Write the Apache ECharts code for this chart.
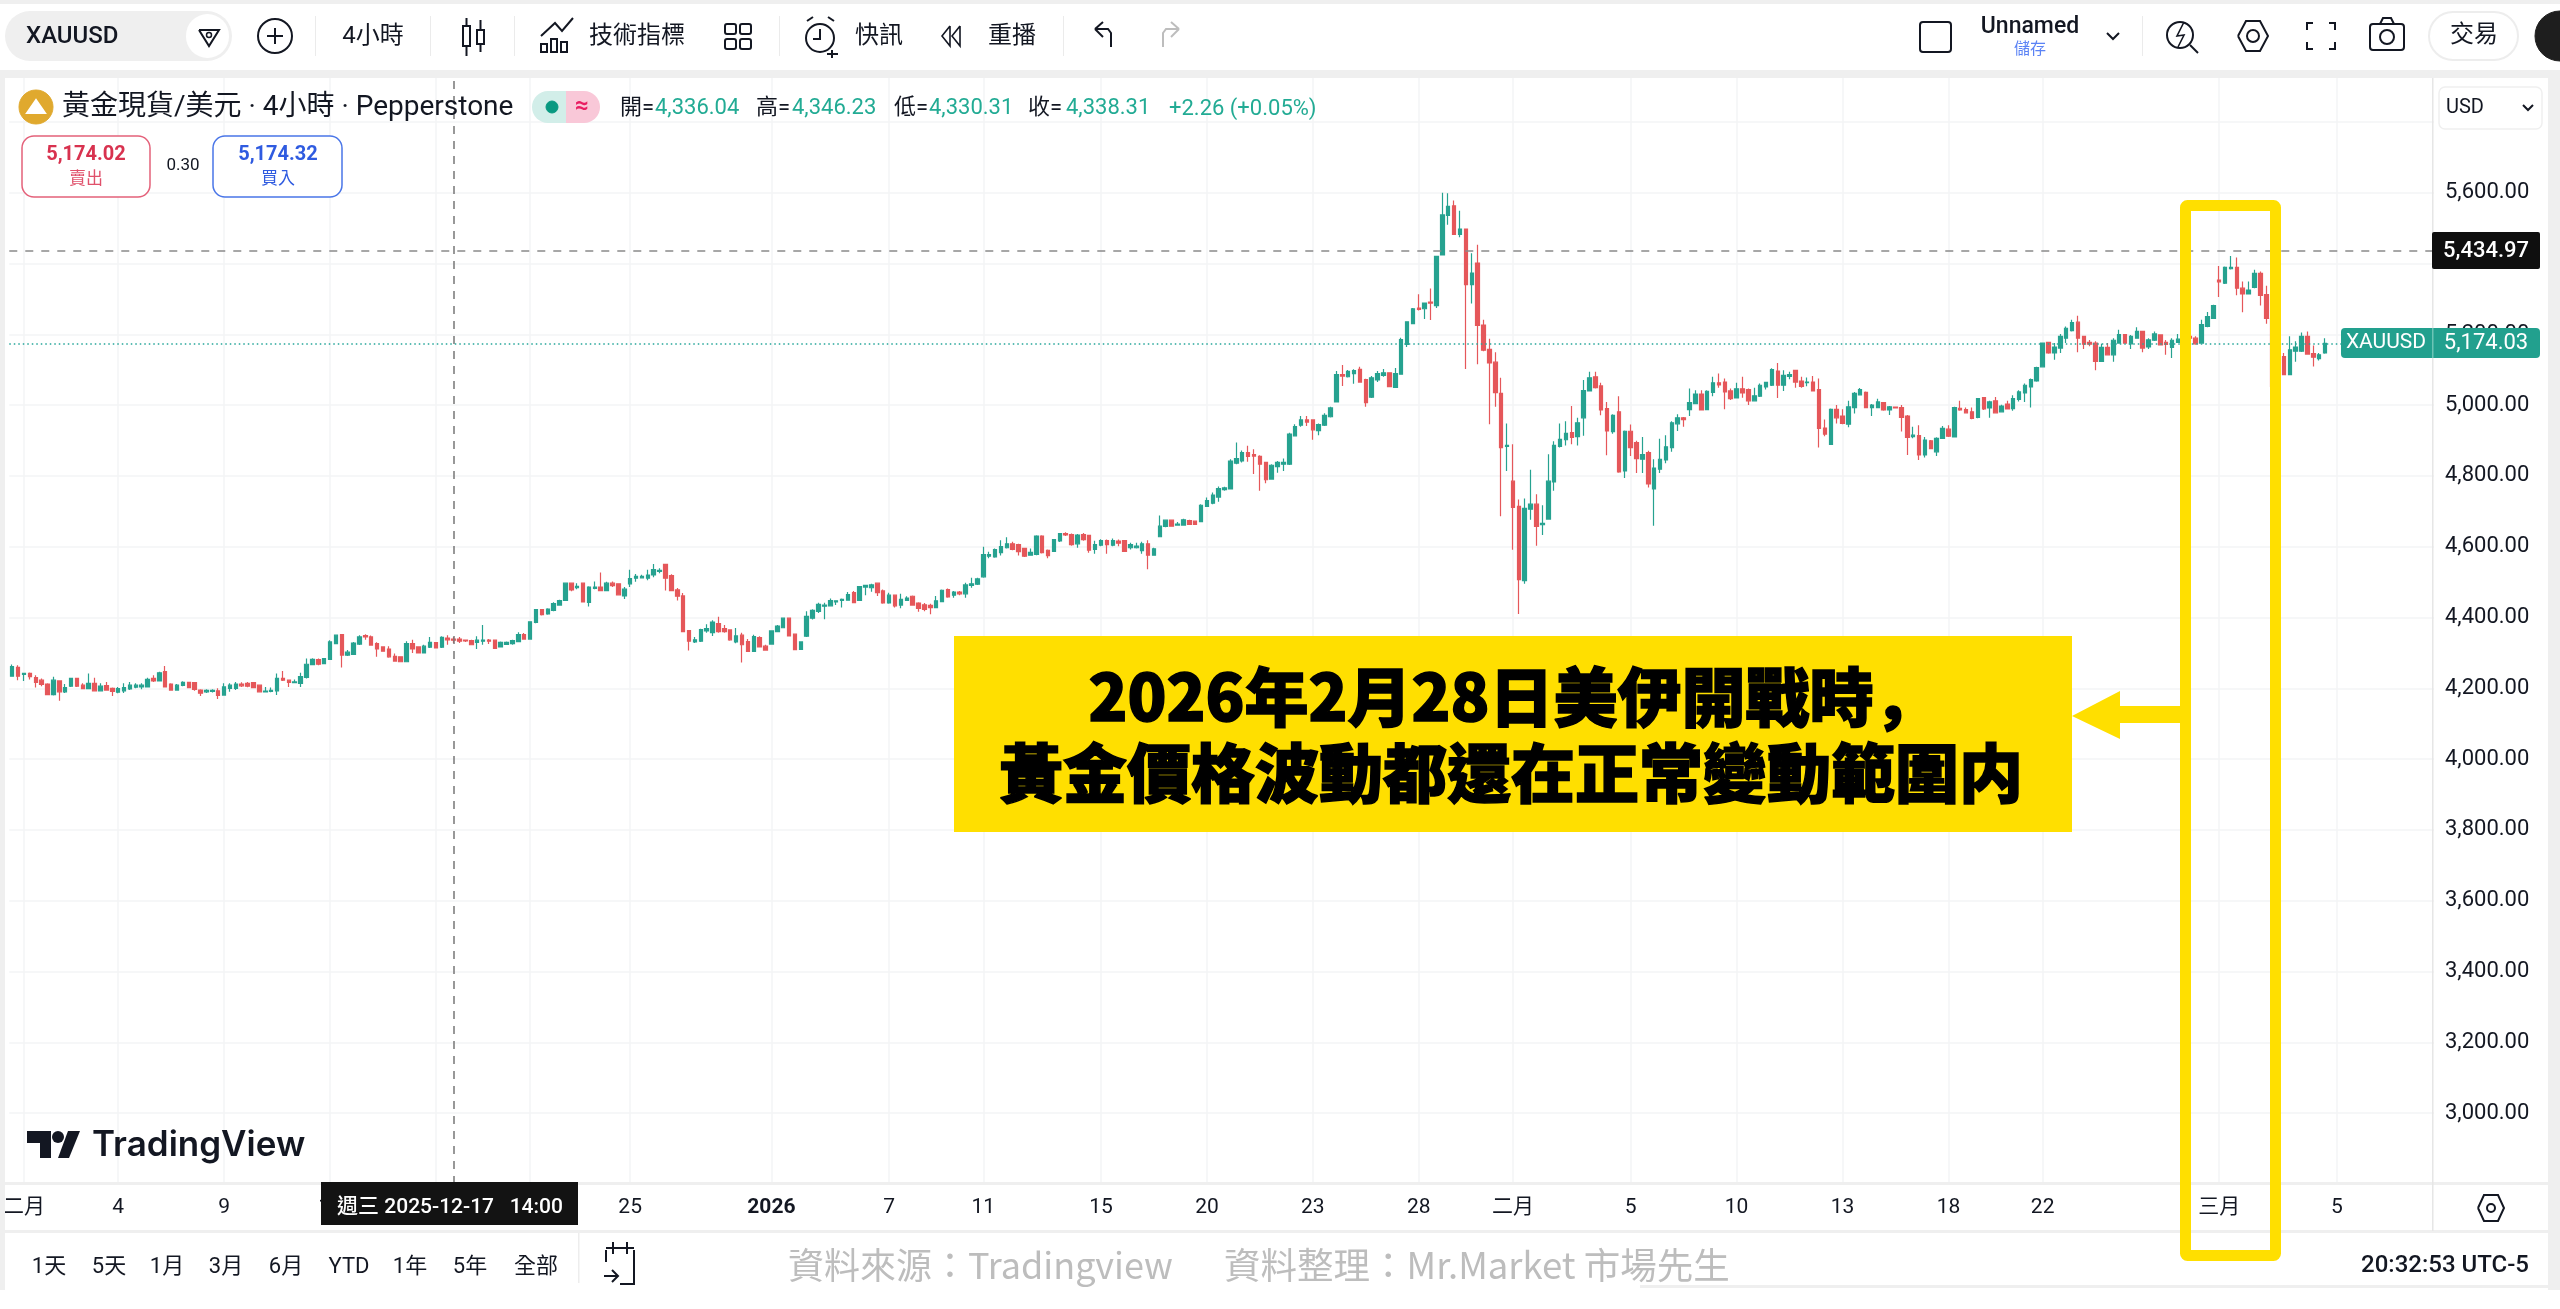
<!DOCTYPE html>
<html>
<head>
<meta charset="utf-8">
<title>XAUUSD</title>
<script src="https://cdn.jsdelivr.net/npm/echarts@6/dist/echarts.min.js"></script>
<style>
html, body { margin: 0; padding: 0; background: #fff; }
#chart { width: 2560px; height: 1309px; }
</style>
</head>
<body>
<div id="chart"></div>
<script>
// 4H candles: [open, close, low, high]
const candlesDec = [
[4234,4261,4233,4267],[4259,4234,4223,4265],[4239,4242,4221,4244],[4242,4233,4225,4245],[4230,4217,4202,4237],[4223,4211,4206,4228],
[4212,4182,4181,4214],[4182,4223,4180,4233],[4221,4190,4165,4223],[4190,4202,4187,4212],[4206,4228,4204,4230],[4228,4206,4204,4230],
[4209,4199,4197,4214],[4199,4214,4197,4242],[4214,4193,4191,4230],[4193,4206,4191,4214],[4208,4195,4193,4218],[4200,4191,4178,4202],
[4189,4199,4186,4204],[4193,4202,4187,4214],[4198,4209,4195,4218],[4203,4209,4200,4214],[4204,4209,4197,4214],[4204,4225,4202,4230],
[4228,4221,4218,4237],[4221,4244,4220,4247],[4247,4204,4202,4263],[4212,4195,4193,4214],[4195,4209,4193,4212],[4208,4217,4206,4220],
[4217,4202,4201,4218],[4216,4197,4193,4218],[4195,4186,4178,4197],[4190,4194,4187,4197],[4191,4194,4188,4197],[4193,4180,4170,4200],
[4181,4204,4179,4214],[4200,4209,4190,4214],[4200,4212,4195,4218],[4212,4207,4204,4217],[4214,4206,4203,4218],[4216,4202,4201,4218],
[4209,4190,4188,4211],[4190,4192,4189,4204],[4191,4194,4189,4202],[4193,4228,4181,4242],[4228,4223,4221,4249],[4223,4217,4204,4225],
[4216,4218,4214,4225],[4214,4233,4204,4244],[4231,4268,4228,4284],[4267,4282,4265,4285],[4281,4268,4265,4284],[4270,4284,4269,4285],
[4282,4331,4281,4336],[4326,4350,4325,4352],[4352,4294,4259,4353],[4294,4302,4291,4308],[4296,4328,4295,4331],[4325,4345,4322,4350],
[4349,4345,4337,4353],[4345,4322,4321,4349],[4326,4311,4289,4330],[4317,4305,4304,4319],[4311,4289,4286,4319],[4290,4277,4275,4298],
[4289,4275,4275,4290],[4275,4326,4275,4333],[4326,4311,4300,4337],[4317,4300,4299,4319],[4300,4319,4298,4323],[4316,4330,4314,4345],
[4329,4314,4313,4331],[4316,4344,4314,4347],[4342,4337,4323,4350],[4339,4336,4328,4345],[4339,4333,4328,4345],[4336,4334,4331,4337],
[4335,4323,4322,4337],[4330,4336,4311,4347],[4333,4336,4323,4379],[4336,4333,4325,4339],[4336,4313,4311,4337],[4317,4330,4316,4332],
[4324,4330,4323,4332],[4326,4335,4323,4337],[4332,4352,4330,4358],[4352,4339,4337,4356],[4339,4388,4338,4389],[4386,4422,4384,4424],
[4422,4408,4406,4424],[4410,4424,4408,4426],[4420,4439,4418,4443],[4435,4448,4433,4450],[4448,4497,4447,4499],[4497,4478,4474,4499],
[4484,4488,4480,4497],[4497,4444,4443,4499],[4443,4486,4431,4488],[4482,4486,4480,4502],[4486,4476,4475,4527],[4476,4497,4475,4501],
[4497,4490,4486,4502],[4495,4464,4462,4497],[4461,4480,4452,4486],[4495,4510,4486,4535],[4511,4516,4501,4523],[4512,4516,4510,4521],
[4511,4520,4505,4535],[4520,4535,4514,4551],[4530,4533,4525,4539],[4550,4511,4476,4552],[4518,4476,4475,4522],[4478,4460,4448,4483],
[4461,4360,4358,4469],[4363,4333,4307,4364],[4331,4337,4328,4345],[4333,4366,4331,4368],[4362,4369,4357,4381],[4357,4387,4348,4392],
[4383,4360,4357,4402],[4369,4360,4357,4379],[4365,4337,4334,4367],[4331,4348,4327,4370],[4350,4323,4273,4357],[4332,4304,4303,4339],
[4304,4346,4303,4351],[4343,4317,4315,4347],[4319,4308,4306,4323]
];
const candlesJan = [
[4325,4362,4323,4364],[4360,4376,4358,4379],[4371,4398,4370,4400],[4398,4348,4346,4400],[4353,4309,4308,4355],[4310,4331,4310,4332],
[4347,4403,4345,4418],[4398,4420,4394,4423],[4417,4437,4413,4442],[4432,4435,4395,4442],[4433,4448,4431,4454],[4444,4447,4435,4448],
[4448,4451,4428,4454],[4449,4465,4447,4472],[4470,4442,4440,4475],[4448,4487,4447,4489],[4486,4491,4463,4492],[4484,4492,4473,4495],
[4497,4470,4461,4499],[4475,4441,4439,4479],[4441,4463,4439,4470],[4463,4433,4428,4465],[4435,4451,4426,4467],[4448,4455,4447,4460],
[4460,4435,4433,4462],[4441,4426,4416,4443],[4436,4423,4418,4441],[4434,4428,4409,4439],[4428,4447,4426,4461],[4445,4477,4443,4479],
[4479,4458,4456,4482],[4463,4472,4456,4475],[4472,4467,4463,4475],[4467,4492,4456,4498],[4491,4495,4484,4512],[4494,4509,4492,4512],
[4515,4578,4512,4600],[4573,4578,4567,4586],[4571,4592,4569,4595],[4583,4600,4575,4618],[4597,4608,4595,4627],[4608,4592,4590,4614],
[4606,4586,4575,4608],[4595,4573,4571,4597],[4576,4584,4575,4595],[4578,4630,4576,4632],[4630,4583,4581,4632],[4590,4575,4567,4592],
[4587,4620,4586,4622],[4616,4637,4613,4639],[4637,4633,4630,4641],[4634,4606,4603,4637],[4608,4633,4597,4636],[4634,4620,4617,4639],
[4632,4590,4583,4634],[4592,4606,4580,4617],[4604,4617,4601,4621],[4617,4606,4580,4620],[4604,4617,4601,4623],[4616,4610,4601,4620],
[4617,4587,4586,4619],[4597,4606,4592,4611],[4597,4602,4595,4611],[4589,4608,4580,4614],[4608,4576,4536,4618],[4576,4594,4575,4597],
[4628,4658,4627,4688],[4657,4675,4655,4677],[4675,4658,4656,4677],[4661,4664,4659,4670],[4661,4676,4660,4679],[4674,4663,4662,4676],
[4672,4663,4661,4674],[4671,4717,4670,4720],[4714,4730,4713,4739],[4723,4746,4720,4753],[4740,4764,4727,4770],[4761,4766,4758,4769],
[4763,4842,4762,4847],[4836,4849,4833,4894],[4842,4866,4838,4872],[4866,4855,4840,4885],[4860,4856,4805,4875],[4855,4833,4758,4858],
[4838,4789,4779,4840],[4791,4830,4789,4833],[4826,4838,4809,4842],[4833,4838,4814,4849],[4833,4918,4831,4922],[4913,4939,4911,4946],
[4943,4958,4939,4969],[4958,4952,4941,4969],[4958,4930,4902,4960],[4928,4945,4915,4948],[4943,4971,4941,4977],[4967,4992,4965,4995],
[5009,5086,5007,5096],[5086,5082,5054,5113],[5080,5095,5078,5099],[5089,5097,5060,5101],[5101,5065,5063,5108],[5072,5007,4995,5074],
[5022,5077,5020,5082],[5071,5089,5065,5096],[5084,5091,5080,5102],[5091,5052,5050,5093],[5050,5089,5049,5105],[5087,5185,5086,5190],
[5171,5235,5164,5237],[5230,5272,5228,5274],[5274,5270,5267,5313],[5272,5288,5243,5290],[5291,5288,5240,5329],[5281,5420,5274,5422],
[5424,5537,5423,5600],[5536,5561,5509,5598],[5563,5482,5480,5578],[5482,5497,5474,5549],[5497,5340,5102,5499],[5340,5373,5287,5429],
[5401,5225,5115,5453],[5226,5155,5152,5241],[5157,5119,4946,5187],[5121,5035,4995,5149],[5033,4880,4686,5077],[4883,4886,4814,4948]
];
const candlesFeb = [
[4785,4711,4591,4889],[4714,4507,4410,4733],[4504,4708,4495,4736],[4706,4720,4676,4817],[4720,4657,4603,4748],[4662,4666,4633,4717],
[4678,4785,4676,4861],[4783,4886,4758,4898],[4883,4903,4880,4948],[4902,4920,4886,4954],[4922,4909,4889,4997],[4911,4950,4886,4964],
[4964,5041,4913,5071],[5040,5077,5038,5094],[5080,5049,5047,5094],[5054,4986,4971,5063],[4990,4927,4858,5009],[4925,4971,4919,4974],
[4981,4811,4809,5025],[4814,4926,4794,4928],[4926,4880,4856,4945],[4894,4849,4808,4899],[4847,4860,4808,4910],[4866,4777,4767,4871],
[4763,4822,4659,4847],[4819,4847,4808,4905],[4845,4882,4836,4915],[4880,4950,4868,4954],[4947,4964,4927,4974],[4964,4959,4939,4966],
[4987,5007,4969,5047],[5004,5031,5002,5042],[5031,4986,4985,5042],[4987,5039,4987,5042],[5036,5063,5025,5080],[5063,5057,5049,5089],
[5065,5037,4988,5075],[5040,5018,5014,5047],[5020,5046,5019,5063],[5046,5034,5021,5080],[5044,5012,5000,5047],[5012,5026,5010,5049],
[5025,5056,5023,5061],[5051,5064,5044,5065],[5056,5100,5054,5104],[5096,5056,5020,5119],[5056,5084,5040,5098],[5081,5086,5073,5094],
[5098,5065,5049,5100],[5068,5053,5049,5080],[5063,5065,5053,5078],[5065,5040,5038,5082],[5044,4934,4880,5075],[4935,4918,4912,4959],
[4889,4988,4888,4990],[4988,4964,4948,5000],[4969,4948,4946,4988],[4946,4995,4937,5012],[4993,5033,4976,5037],[5029,5044,5027,5048],
[5036,4993,4991,5038],[4993,5000,4969,5003],[4993,5009,4991,5018],[5007,4986,4984,5009],[4986,4995,4972,4997],[4994,4992,4991,4995],
[4993,4965,4925,5000],[4969,4909,4859,4972],[4911,4915,4906,4939],[4914,4859,4845,4943],[4859,4901,4852,4910],[4899,4877,4875,4901],
[4868,4906,4856,4909],[4906,4934,4904,4941],[4932,4912,4910,4943],[4910,4993,4909,4995],[4991,4986,4984,5012],[4987,4978,4976,4993],
[4981,4962,4960,4993],[4965,5018,4963,5020],[5021,4989,4986,5023],[4992,5009,4964,5012],[5012,4978,4976,5023],[4981,4997,4979,5001],
[5003,4989,4988,5012],[4990,5018,4984,5028],[5016,5037,5010,5042],[5034,5056,5009,5061],[5051,5072,4993,5075],[5068,5106,5066,5108],
[5108,5175,5107,5177],[5177,5147,5145,5179],[5147,5164,5128,5175],[5161,5194,5147,5201],[5189,5217,5175,5222],[5210,5233,5208,5241],
[5234,5189,5149,5252],[5194,5172,5158,5196],[5177,5172,5166,5184],[5175,5123,5098,5180],[5123,5163,5122,5173],[5163,5142,5140,5175],
[5142,5183,5122,5189],[5175,5199,5173,5213],[5199,5175,5173,5200],[5173,5194,5158,5198],[5189,5208,5187,5220],[5208,5161,5149,5210],
[5164,5184,5158,5189],[5183,5201,5181,5208],[5198,5170,5168,5200],[5177,5171,5142,5184],[5163,5183,5133,5189],[5177,5186,5175,5201],
[5184,5194,5183,5198],[5194,5189,5184,5199],[5189,5173,5170,5194],[5175,5227,5173,5241],[5222,5250,5220,5263],[5245,5281,5244,5283]
];
const candlesMar = [
[5353,5348,5305,5393],[5344,5389,5342,5391],[5385,5389,5383,5421],[5389,5330,5310,5417],[5330,5314,5262,5349],[5314,5325,5312,5349],
[5332,5372,5330,5382],[5372,5310,5281,5377],[5312,5245,5230,5337],[5245,5053,5039,5250],[5053,5133,5044,5137],[5137,5086,5085,5147],
[5086,5156,5085,5194],[5152,5164,5122,5180],[5152,5194,5150,5205],[5194,5144,5142,5208],[5145,5135,5109,5168],[5131,5142,5126,5147],
[5147,5174,5145,5189]
];

// time axis: which candle carries which label
const tickIdx = [2,18,36,54,72,88,105,129,149,165,185,203,221,239,255,275,293,311,329,345,375,395];
const tickLabels = ['二月','4','9','12','17','22','25','2026','7','11','15','20','23','28','二月','5','10','13','18','22','三月','5'];
const slotCount = 412;
const crosshairIdx = 75;
const crosshairText = '週三 2025-12-17   14:00';

const priceMin = 2800, priceMax = 6000, priceStep = 200;
const hiddenPrices = [2800, 5400, 5800, 6000];
const lastPrice = 5174.03, lastText = '5,174.03';
const hoverPrice = 5434.97, hoverText = '5,434.97';

const legendOhlc = [['開=', '4,336.04'], ['高=', '4,346.23'], ['低=', '4,330.31'], ['收=', '4,338.31']];
const rangeButtons = ['1天', '5天', '1月', '3月', '6月', 'YTD', '1年', '5年', '全部'];

const candles = candlesDec.concat(candlesJan, candlesFeb, candlesMar);
const categories = new Array(slotCount).fill('');
tickIdx.forEach((idx, k) => { categories[idx] = tickLabels[k]; });

const FONT = 'Roboto, "Noto Sans CJK TC", sans-serif';
const CJK = '"Noto Sans CJK TC", sans-serif';
const INK = '#131722';
const UP = '#26A290', DOWN = '#E5575A', YELLOW = '#FFDF00';
const BAND = '#EFEFEF';

// graphic helpers
const gfx = [];
function box(x, y, w, h, fill, o = {}) {
    gfx.push({ type: 'rect', z: 100, silent: true, shape: { x, y, width: w, height: h, r: o.r || 0 },
        style: { fill: fill, stroke: o.stroke || null, lineWidth: o.lw || 0 } });
}
function seg(pts, color = INK, lw = 2, fill = null) {
    gfx.push({ type: fill ? 'polygon' : 'polyline', z: 100, silent: true, shape: { points: pts },
        style: { stroke: color, lineWidth: lw, fill: fill } });
}
function ring(cx, cy, r, color = INK, lw = 2, fill = null) {
    gfx.push({ type: 'circle', z: 100, silent: true, shape: { cx, cy, r },
        style: { stroke: color, lineWidth: lw, fill: fill } });
}
function label(x, y, text, o = {}) {
    const a = o.align || 'center';
    gfx.push({ type: 'text', z: 100, silent: true, style: {
        x, y, text, fill: o.color || INK,
        font: (o.weight || 'normal') + ' ' + (o.size || 24) + 'px ' + (o.family || FONT),
        align: a, verticalAlign: 'middle', textAlign: a, textVerticalAlign: 'middle',
        stroke: o.stroke || null, lineWidth: o.strokeW || 0
    } });
}

// page bands
box(0, 0, 2560, 4, BAND);
box(0, 4, 2560, 66, '#fff');
box(0, 70, 2560, 8, BAND);
box(0, 78, 5, 1212, BAND);
box(2548, 78, 12, 1212, BAND);
box(0, 1182, 2548, 3, BAND);
box(0, 1230, 2548, 3, BAND);
box(1640, 1285, 920, 3, BAND);
box(2432, 78, 1.5, 1153, '#E6E6E6');
box(578, 1233, 1.5, 50, '#EDEDED');

// top toolbar, left side
box(5, 11, 227, 50, '#EFEFEF', { r: 25 });
box(186, 14, 43, 44, '#fff', { r: 22 });
label(26, 37, 'XAUUSD', { align: 'left', size: 24, weight: 500 });
seg([[199, 30], [219, 30], [209, 46], [199, 30]], INK, 2);
ring(209, 35, 2.5, INK, 1.5);
ring(275, 36, 17);
seg([[267, 36], [283, 36]]); seg([[275, 28], [275, 44]]);
[315, 430, 514, 779, 1063, 2142].forEach(x => box(x, 16, 1, 40, '#EBEBEB'));
label(373, 37, '4小時');
box(463, 26, 7, 20, '#fff', { stroke: INK, lw: 2 }); seg([[466.5, 18], [466.5, 26]]); seg([[466.5, 46], [466.5, 56]]);
box(477, 30, 7, 14, '#fff', { stroke: INK, lw: 2 }); seg([[480.5, 20], [480.5, 30]]); seg([[480.5, 44], [480.5, 52]]);
seg([[541, 36], [555, 23], [562, 31], [573, 18]]);
box(541, 44, 6, 8, '#fff', { stroke: INK, lw: 2 }); box(551, 39, 6, 13, '#fff', { stroke: INK, lw: 2 }); box(561, 42, 6, 10, '#fff', { stroke: INK, lw: 2 });
label(637, 37, '技術指標');
[[725, 24], [740, 24], [725, 39], [740, 39]].forEach(p => box(p[0], p[1], 11, 10, '#fff', { stroke: INK, lw: 2, r: 2 }));
ring(820, 38, 14);
seg([[820, 29], [820, 39], [813, 39]]); seg([[807, 21], [813, 17]]); seg([[834, 21], [828, 17]]); seg([[832, 50], [832, 58]], INK, 2); seg([[827, 54], [838, 54]]);
label(879, 37, '快訊');
seg([[950, 26], [942, 36], [950, 46], [950, 26]], INK, 1.6);
seg([[960, 26], [952, 36], [960, 46], [960, 26]], INK, 1.6);
label(1012, 37, '重播');
seg([[1095, 29], [1103, 37]]); seg([[1095, 29], [1103, 22]]); seg([[1095, 29], [1108, 29], [1111, 33], [1111, 47]]);
seg([[1179, 29], [1171, 37]], '#BDBDBD'); seg([[1179, 29], [1171, 22]], '#BDBDBD'); seg([[1179, 29], [1166, 29], [1163, 33], [1163, 47]], '#BDBDBD');

// top toolbar, right side
box(1920, 22, 31, 30, '#fff', { stroke: INK, lw: 2, r: 3 });
label(2030, 27, 'Unnamed', { size: 23, weight: 500 });
label(2030, 50, '儲存', { size: 16, color: '#5B83F5' });
seg([[2107, 33], [2113, 39], [2119, 33]]);
ring(2180, 35, 13); seg([[2190, 45], [2198, 53]]); seg([[2184, 22], [2177, 36], [2184, 35], [2178, 47]], INK, 1.6);
seg([[2238, 36], [2246, 21], [2260, 21], [2268, 36], [2260, 51], [2246, 51], [2238, 36]]); ring(2253, 36, 6);
seg([[2307, 30], [2307, 23], [2313, 23]]); seg([[2329, 23], [2335, 23], [2335, 30]]); seg([[2307, 42], [2307, 49], [2313, 49]]); seg([[2329, 49], [2335, 49], [2335, 42]]);
box(2370, 24, 34, 26, '#fff', { stroke: INK, lw: 2, r: 3 }); ring(2387, 37, 7); seg([[2380, 24], [2383, 18], [2391, 18], [2394, 24]]);
box(2429, 12, 89, 48, '#fff', { stroke: '#EDEDED', lw: 2, r: 24 });
label(2474, 36, '交易', { size: 24 });
ring(2560, 36, 25, '#1E1E1E', 1, '#1E1E1E');

// legend row
ring(36, 107, 17, '#E0A92E', 1, '#E0A92E');
seg([[27, 113], [36, 100], [45, 113], [27, 113]], '#fff', 2, '#fff');
label(62, 108, '黃金現貨/美元 · 4小時 · Pepperstone', { align: 'left', size: 28 });
box(532, 91, 36, 32, '#D2EEE9', { r: [16, 0, 0, 16] });
box(566, 91, 34, 32, '#F9C8D8', { r: [0, 16, 16, 0] });
ring(552, 107, 6, '#089981', 1, '#089981');
label(582, 107, '≈', { size: 24, color: '#E91E63', weight: 'bold' });
const ohlcX = [[620, 655], [756, 792], [894, 929], [1028, 1066]];
legendOhlc.forEach((p, k) => {
    label(ohlcX[k][0], 108, p[0], { align: 'left', size: 22 });
    label(ohlcX[k][1], 108, p[1], { align: 'left', size: 22, color: '#22AB94' });
});
label(1169, 109, '+2.26 (+0.05%)', { align: 'left', size: 22, color: '#22AB94' });
box(22, 136, 128, 61, '#fff', { stroke: '#E4617A', lw: 1.5, r: 12 });
label(86, 155, '5,174.02', { size: 20, weight: 'bold', color: '#D8324F' });
label(86, 180, '賣出', { size: 17, color: '#E0516B' });
label(183, 166, '0.30', { size: 17 });
box(213, 136, 129, 61, '#fff', { stroke: '#4A76E8', lw: 1.5, r: 12 });
label(278, 155, '5,174.32', { size: 20, weight: 'bold', color: '#2F5BE0' });
label(278, 180, '買入', { size: 17, color: '#2F5BE0' });
box(2439, 87, 103, 42, '#fff', { stroke: '#EFEFEF', lw: 1.5, r: 6 });
label(2446, 108, 'USD', { align: 'left', size: 20 });
seg([[2523, 105], [2528, 110], [2533, 105]]);

// price tags on the right
box(2432, 232, 108, 37, '#0F0F0F', { r: 2 });
label(2486, 251, hoverText, { size: 22, color: '#fff', weight: 500 });
box(2341, 328, 199, 30, '#22A08E', { r: 4 });
box(2432, 328, 1.5, 30, '#6CC4B6');
label(2386, 343, 'XAUUSD', { size: 21, color: '#fff' });
label(2486, 343, lastText, { size: 22, color: '#fff' });

// bottom
box(321, 1182, 257, 43, '#131313');
label(450, 1208, crosshairText, { size: 21, color: '#fff', weight: 500 });
const hexX = 2491;
seg([[hexX - 13, 1208], [hexX - 7, 1195], [hexX + 7, 1195], [hexX + 13, 1208], [hexX + 7, 1221], [hexX - 7, 1221], [hexX - 13, 1208]]); ring(hexX, 1208, 4);
const rangeX = [49, 109, 167, 226, 286, 349, 410, 470, 536];
rangeButtons.forEach((t, k) => label(rangeX[k], 1267, t, { size: 22 }));
seg([[606, 1248], [634, 1248]]); seg([[613, 1242], [613, 1254]]); seg([[627, 1242], [627, 1254]]);
seg([[606, 1262], [606, 1250]]); seg([[634, 1250], [634, 1284], [620, 1284]]); seg([[604, 1276], [618, 1276]]); seg([[612, 1270], [618, 1276], [612, 1282]]);
label(788, 1265, '資料來源：Tradingview', { align: 'left', size: 36, color: '#BDBDBD', family: CJK });
label(1224, 1265, '資料整理：Mr.Market 市場先生', { align: 'left', size: 36.5, color: '#BDBDBD', family: CJK });
label(2529, 1266, '20:32:53 UTC-5', { align: 'right', size: 24, weight: 500 });

// TradingView mark
seg([[27, 1131], [51, 1131], [51, 1158], [40, 1158], [40, 1143], [27, 1143]], INK, 0, INK);
ring(58, 1137, 6, INK, 0, INK);
seg([[58, 1158], [68, 1131], [80, 1131], [69, 1158]], INK, 0, INK);
label(92, 1145, 'TradingView', { align: 'left', size: 35, weight: 600, family: 'Inter, sans-serif' });

// annotation
box(2185.5, 205.5, 90, 1050, 'transparent', { stroke: YELLOW, lw: 11, r: 2 });
box(954, 636, 1118, 196, YELLOW);
seg([[2072, 716], [2120, 691], [2120, 706], [2181, 706], [2181, 723], [2120, 723], [2120, 739]], YELLOW, 0, YELLOW);
label(1513, 697, '2026年2月28日美伊開戰時，', { size: 64, weight: 900, family: '"Noto Sans CJK SC", sans-serif', color: '#000', stroke: '#000', strokeW: 1.5 });
label(1511, 773, '黃金價格波動都還在正常變動範圍内', { size: 64, weight: 900, family: CJK, color: '#000', stroke: '#000', strokeW: 1.5 });

const chart = echarts.init(document.getElementById('chart'));
chart.setOption({
    animation: false,
    backgroundColor: '#fff',
    grid: { left: 6, top: 51, width: 2428, height: 1133 },
    xAxis: {
        type: 'category',
        data: categories,
        boundaryGap: true,
        axisLine: { show: false },
        axisTick: { show: false },
        axisLabel: {
            interval: (i, v) => v !== '',
            margin: 13,
            fontSize: 21,
            fontFamily: FONT,
            color: INK,
            hideOverlap: false,
            formatter: v => (v === '2026' ? '{b|2026}' : v),
            rich: { b: { fontSize: 21, fontWeight: 'bold', fontFamily: FONT, color: INK } }
        },
        splitLine: {
            show: true,
            alignWithLabel: true,
            interval: (i, v) => v !== '',
            lineStyle: { color: '#F3F4F6', width: 1.5 }
        }
    },
    yAxis: {
        type: 'value',
        position: 'right',
        min: priceMin,
        max: priceMax,
        interval: priceStep,
        axisLine: { show: false },
        axisTick: { show: false },
        axisLabel: {
            margin: 11,
            fontSize: 22,
            fontFamily: FONT,
            color: INK,
            formatter: v => (hiddenPrices.includes(v) ? '' : v.toLocaleString('en-US', { minimumFractionDigits: 2 }))
        },
        splitLine: { show: true, lineStyle: { color: '#F3F4F6', width: 1.5 } }
    },
    series: [{
        type: 'candlestick',
        data: candles,
        barWidth: 4,
        itemStyle: { color: UP, color0: DOWN, borderColor: UP, borderColor0: DOWN, borderWidth: 1.2 },
        markLine: {
            silent: true,
            symbol: 'none',
            label: { show: false },
            data: [
                { yAxis: hoverPrice, lineStyle: { color: '#8A8A8A', type: [8, 8], width: 1.5 } },
                { yAxis: lastPrice, lineStyle: { color: '#26A69A', type: [1.5, 3], width: 1.5 } },
                { xAxis: crosshairIdx, lineStyle: { color: '#777', type: [8, 7], width: 1.5 } }
            ]
        }
    }],
    graphic: { elements: gfx }
});
</script>
</body>
</html>
